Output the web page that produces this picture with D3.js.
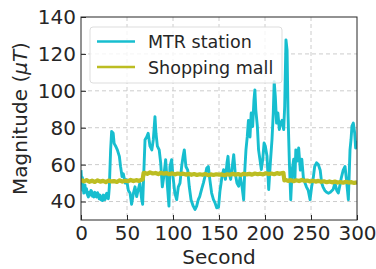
<!DOCTYPE html>
<html>
<head>
<meta charset="utf-8">
<script src="https://cdn.jsdelivr.net/npm/d3@7"></script>
<style>
  body { margin: 0; background: #fff; }
  text { font-family: "DejaVu Sans", sans-serif; fill: #262626; }
</style>
</head>
<body>
<svg id="chart" width="376" height="269"></svg>
<script>
// [second, magnitude] pairs
var mtrStation = [
    [0, 57], [0.8, 50], [1.5, 53], [2, 46], [2.6, 48], [3, 44.6], [3.6, 47], [4.3, 49],
    [5, 45], [6, 47], [6.8, 44], [8, 42.5], [9, 45], [10, 43.5], [10.8, 46], [11.6, 45.5],
    [12.5, 42.8], [13.4, 44.5], [14.2, 42.5], [15, 45], [16, 43], [17, 42.5], [18, 44.8],
    [19, 43.5], [19.8, 41.5], [20.7, 43.5], [21.6, 41], [22.5, 42.6], [23.4, 40.5],
    [24.3, 43.5], [25.2, 41.5], [26, 41], [27, 43.5], [28, 44.5], [28.8, 42], [29.7, 41.6],
    [30.2, 44], [30.8, 48],
    [32.2, 68], [33.3, 78], [35, 77], [36, 71.5], [38, 69.7], [39.5, 68], [41.7, 64.5],
    [43, 59], [44.6, 53.6], [46, 55], [48, 50], [49.6, 51.8], [51.5, 46], [53.3, 44.6],
    [55, 38.5], [57, 44.6], [58.7, 48], [60.5, 42.7], [62, 46], [64, 50], [66, 41],
    [67, 38.5], [68.5, 59], [69.6, 73.5], [71.4, 75], [73, 77], [75, 70], [77, 68],
    [78.6, 73.5], [80.4, 86], [81.5, 77], [83, 70], [85, 68], [86.6, 61], [88.4, 48],
    [90, 53.6], [92, 62.7], [94, 48], [95.6, 37.5], [96.7, 59], [98.5, 62.7], [100, 53.6],
    [102, 44.6], [104, 41], [105.8, 48], [107.6, 50], [109.4, 59], [111, 64.5],
    [112.3, 68], [114, 59], [116, 57], [117.7, 48], [119.6, 41], [122, 37.5], [124, 35.7],
    [125.7, 37.5], [127.5, 41], [129, 42.7], [131, 46.5], [133, 50], [134.8, 53.6],
    [136.6, 58], [138.4, 59], [140, 52], [142, 44.6], [144, 41], [145.6, 39.4],
    [147.5, 36.6], [149.5, 37], [151, 45.5], [153.3, 53.7], [155, 57.3], [157, 52],
    [158.7, 61], [159.8, 64.5], [161, 55.5], [162.7, 52], [164, 57.3], [166, 65.4],
    [167.6, 55.5], [169.5, 50], [171.4, 48.3], [173, 53.7], [175, 48.3], [176.8, 41],
    [177.9, 55.5], [179.3, 68], [180.7, 75], [182, 84], [183.7, 75], [185, 88],
    [186.6, 80.7], [188, 95], [189, 100.5], [190, 89.7], [191.7, 80.7], [193, 68],
    [194.5, 62.7], [196, 57.3], [197.5, 62.7], [199, 71.7], [200.4, 69.9], [202.2, 64.5],
    [204, 46.5], [205.8, 61], [207.6, 73.5], [209, 88], [210, 105], [211.2, 97],
    [212.6, 82.5], [214, 88], [215.6, 79], [217, 82.5], [218.5, 84], [220.3, 79],
    [221.4, 91.5], [222.8, 127.6], [224, 122], [225, 88], [226.5, 61], [228, 41],
    [229.5, 57], [231.2, 63], [232.5, 52], [233.5, 68], [235, 62], [236.6, 69],
    [238.4, 57], [240, 63], [241.7, 53], [243.5, 50], [245, 48], [247, 46], [249, 41],
    [250.7, 48], [252.5, 53], [254, 59], [256, 61], [258, 60], [260, 57], [261.6, 50],
    [263, 48], [265, 46], [267, 45], [269, 44.5], [271, 45], [274, 46.5], [276, 50],
    [278, 46], [279.7, 44.6], [281.5, 49], [283, 53], [285, 57], [287, 59], [288.5, 52],
    [290.6, 41], [292.4, 68], [293.5, 73.5], [294.5, 80.9], [296, 82.5], [297.5, 77],
    [298.5, 69], [299.6, 73]
];

var shoppingMall = [
    [0, 51.8], [3, 50.9], [6, 51.6], [9, 50.7], [12, 51.3], [15, 50.6], [18, 51.5],
    [21, 50.8], [24, 51.2], [27, 50.5], [30, 51.4], [33, 50.9], [36, 51.1], [39, 50.6],
    [42, 51.5], [45, 50.8], [48, 51.3], [51, 51.0], [54, 51.7], [57, 51.1], [60, 51.6],
    [63, 51.2], [66, 51.9], [67, 52.0], [68, 55.5],
    [69, 55.6], [72, 55.0], [75, 55.8], [78, 55.2], [81, 55.5], [84, 54.9], [87, 55.6],
    [90, 55.1], [93, 55.4], [96, 54.8], [99, 55.3], [102, 54.7], [105, 55.2], [108, 54.9],
    [111, 55.1], [114, 54.6], [117, 55.0], [120, 54.5], [123, 54.9], [126, 54.4],
    [129, 54.8], [132, 54.5], [135, 54.9], [138, 54.3], [141, 54.7], [144, 54.4],
    [147, 54.8], [150, 54.6], [153, 54.7], [156, 54.3], [159, 54.8], [162, 54.5],
    [165, 55.0], [168, 54.6], [171, 54.9], [174, 54.4], [177, 55.1], [180, 54.7],
    [183, 55.0], [186, 54.6], [189, 55.2], [192, 54.8], [195, 55.1], [198, 54.7],
    [201, 55.3], [204, 54.9], [207, 55.2], [210, 54.8], [213, 55.4], [216, 55.0],
    [219, 55.5], [220, 55.6], [221, 51.5],
    [222, 51.8], [225, 51.2], [228, 51.6], [231, 51.0], [234, 51.5], [237, 51.1],
    [240, 51.7], [243, 51.2], [246, 51.4], [249, 50.9], [252, 51.3], [255, 50.8],
    [258, 51.2], [261, 50.7], [264, 51.0], [267, 50.5], [270, 50.9], [273, 50.4],
    [276, 50.8], [279, 50.3], [282, 50.6], [285, 50.2], [288, 50.7], [291, 50.3],
    [294, 50.5], [297, 50.1], [300, 50.4]
];

var seriesNames = ["MTR station", "Shopping mall"];
var seriesColors = ["#17becf", "#bcbd22"];
var xTicks = [0, 50, 100, 150, 200, 250, 300];
var yTicks = [40, 60, 80, 100, 120, 140];


(function () {
    "use strict";

    var svg = d3.select("#chart"),
        m = {left: 81, right: 19, top: 17, bottom: 49},
        w = 376 - m.left - m.right,
        h = 269 - m.top - m.bottom,
        x = d3.scaleLinear().domain([0, 300]).range([0, w]),
        y = d3.scaleLinear().domain([30, 140]).range([h, 0]),
        g = svg.append("g").attr("transform", "translate(" + m.left + "," + m.top + ")");

    svg.append("defs").append("clipPath").attr("id", "plotclip")
        .append("rect").attr("width", w).attr("height", h);

    //dashed grid
    g.append("g").selectAll("line").data(xTicks.slice(1, -1)).join("line")
        .attr("x1", function (d) { return x(d); })
        .attr("x2", function (d) { return x(d); })
        .attr("y1", 0).attr("y2", h)
        .attr("stroke", "#cccccc").attr("stroke-width", 1)
        .attr("stroke-dasharray", "4,3");
    g.append("g").selectAll("line").data(yTicks.slice(0, -1)).join("line")
        .attr("x1", 0).attr("x2", w)
        .attr("y1", function (d) { return y(d); })
        .attr("y2", function (d) { return y(d); })
        .attr("stroke", "#cccccc").attr("stroke-width", 1)
        .attr("stroke-dasharray", "4,3");

    //series lines, mall drawn on top
    var line = d3.line()
        .x(function (d) { return x(d[0]); })
        .y(function (d) { return y(d[1]); });
    var lines = g.append("g").attr("clip-path", "url(#plotclip)");
    lines.append("path").datum(mtrStation)
        .attr("d", line).attr("fill", "none")
        .attr("stroke", seriesColors[0]).attr("stroke-width", 2.9)
        .attr("stroke-linejoin", "round");
    lines.append("path").datum(shoppingMall)
        .attr("d", line).attr("fill", "none")
        .attr("stroke", seriesColors[1]).attr("stroke-width", 4.2)
        .attr("stroke-linejoin", "round");

    //axes with inward ticks
    var xAxis = g.append("g").attr("transform", "translate(0," + h + ")")
        .call(d3.axisBottom(x).tickValues(xTicks).tickSize(-5).tickPadding(6));
    var yAxis = g.append("g")
        .call(d3.axisLeft(y).tickValues(yTicks).tickSize(-5).tickPadding(5));
    [xAxis, yAxis].forEach(function (ax) {
        ax.select(".domain").remove();
        ax.selectAll(".tick line").attr("stroke", "#262626");
        ax.selectAll("text").attr("font-size", 20)
            .attr("font-family", "DejaVu Sans").attr("fill", "#262626");
    });

    g.append("rect").attr("width", w).attr("height", h)
        .attr("fill", "none").attr("stroke", "#262626").attr("stroke-width", 1);

    //axis labels
    svg.append("text")
        .attr("x", m.left + w / 2).attr("y", 264)
        .attr("text-anchor", "middle").attr("font-size", 20)
        .text("Second");
    var yl = svg.append("text")
        .attr("transform", "translate(27," + (m.top + h / 2) + ") rotate(-90)")
        .attr("text-anchor", "middle").attr("font-size", 20);
    yl.append("tspan").text("Magnitude (");
    yl.append("tspan").attr("font-style", "italic").text("\u03bcT");
    yl.append("tspan").text(")");

    //legend
    var lg = svg.append("g").attr("transform", "translate(90,27)");
    lg.append("rect").attr("width", 192).attr("height", 56)
        .attr("rx", 3).attr("fill", "#ffffff").attr("fill-opacity", 0.8)
        .attr("stroke", "#dddddd").attr("stroke-width", 1);
    seriesNames.forEach(function (name, i) {
        var ly = 14.5 + i * 25.5;
        lg.append("line")
            .attr("x1", 7).attr("x2", 45).attr("y1", ly).attr("y2", ly)
            .attr("stroke", seriesColors[i]).attr("stroke-width", 2.6);
        lg.append("text")
            .attr("x", 58).attr("y", ly + 6.5)
            .attr("font-size", 17.5)
            .text(name);
    });
}());
</script>
</body>
</html>
